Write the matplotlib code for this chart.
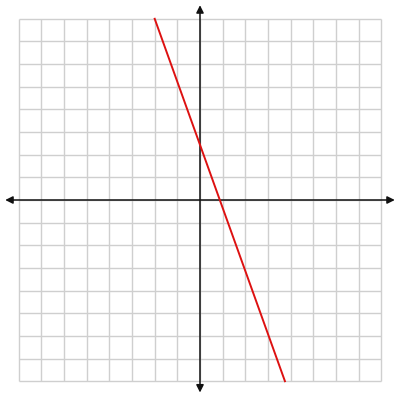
import matplotlib
matplotlib.use("Agg")
import matplotlib.pyplot as plt
import numpy as np

# grid range (units) and the red line's endpoints
grid_ticks = np.arange(-8, 9)
line_x = [-2, 3.75]
line_y = [8, -8]

fig = plt.figure(figsize=(4, 4), dpi=100)
ax = fig.add_axes([0, 0, 1, 1])
lim = 200 / 22.65
ax.set_xlim(-lim, lim)
ax.set_ylim(-lim, lim)
ax.axis("off")

# grid
ax.vlines(grid_ticks, -8, 8, color="#cfcfcf", linewidth=1.0, zorder=1)
ax.hlines(grid_ticks, -8, 8, color="#cfcfcf", linewidth=1.0, zorder=1)

# axes with arrows
arrow = dict(arrowstyle="<|-|>", color="#111111", linewidth=1.1,
             mutation_scale=11, shrinkA=0, shrinkB=0)
ax.annotate("", xy=(8.6, 0), xytext=(-8.6, 0), arrowprops=arrow, zorder=3)
ax.annotate("", xy=(0, 8.6), xytext=(0, -8.5), arrowprops=arrow, zorder=3)

# red line
ax.plot(line_x, line_y, color="#dd1111", linewidth=1.4, zorder=4)

fig.savefig("out.png", dpi=100, facecolor="white")
